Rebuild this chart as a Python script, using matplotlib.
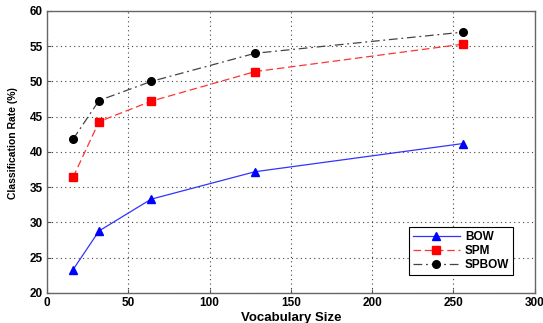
import matplotlib
matplotlib.use("Agg")
import matplotlib.pyplot as plt

vocab = [16, 32, 64, 128, 256]
bow = [23.3, 28.8, 33.3, 37.2, 41.2]
spm = [36.4, 44.3, 47.2, 51.4, 55.3]
spbow = [41.8, 47.3, 50.0, 54.0, 57.0]
xticks = [0, 50, 100, 150, 200, 250, 300]
yticks = [20, 25, 30, 35, 40, 45, 50, 55, 60]

plt.rcParams['font.family'] = ['Liberation Sans', 'DejaVu Sans']
fig = plt.figure(figsize=(5.43, 3.23), dpi=100)
ax = fig.add_axes([0.0866, 0.093, 0.898, 0.873])

ax.plot(vocab, bow, color='#3333ff', lw=0.9, marker='^', ms=6, mfc='blue', mec='blue', label='BOW')
ax.plot(vocab, spm, color='#ff3333', lw=0.9, ls=(0, (6, 3)), marker='s', ms=6, mfc='red', mec='red', label='SPM')
ax.plot(vocab, spbow, color='#444444', lw=0.9, ls=(0, (7, 3, 1.5, 3)), marker='o', ms=5.5, mfc='black', mec='black', label='SPBOW')

ax.set_xlim(0, 300)
ax.set_ylim(20, 60)
ax.set_xticks(xticks)
ax.set_yticks(yticks)
ax.grid(True, ls=(0, (1, 3)), color='#444444', lw=0.8)
for lab in ax.get_xticklabels() + ax.get_yticklabels():
    lab.set_fontweight('bold')
    lab.set_fontsize(8.5)
ax.tick_params(direction='in', length=3, color='#555555', pad=3)
for s in ax.spines.values():
    s.set_color('#666666')
    s.set_linewidth(1.0)
ax.set_xlabel('Vocabulary Size', fontsize=9.5, fontweight='bold', labelpad=2)
ax.set_ylabel('Classification Rate (%)', fontsize=7.5, fontweight='bold')
ax.yaxis.set_label_coords(-0.06, 0.53)

leg = ax.legend(loc='lower right', bbox_to_anchor=(0.955, 0.064), borderaxespad=0,
                prop={'weight': 'bold', 'size': 8.5},
                fancybox=False, framealpha=1, edgecolor='black', borderpad=0.3, labelspacing=0.2,
                handlelength=4.0, handletextpad=0.4)
leg.get_frame().set_linewidth(0.8)

fig.savefig('out.png', dpi=100)
